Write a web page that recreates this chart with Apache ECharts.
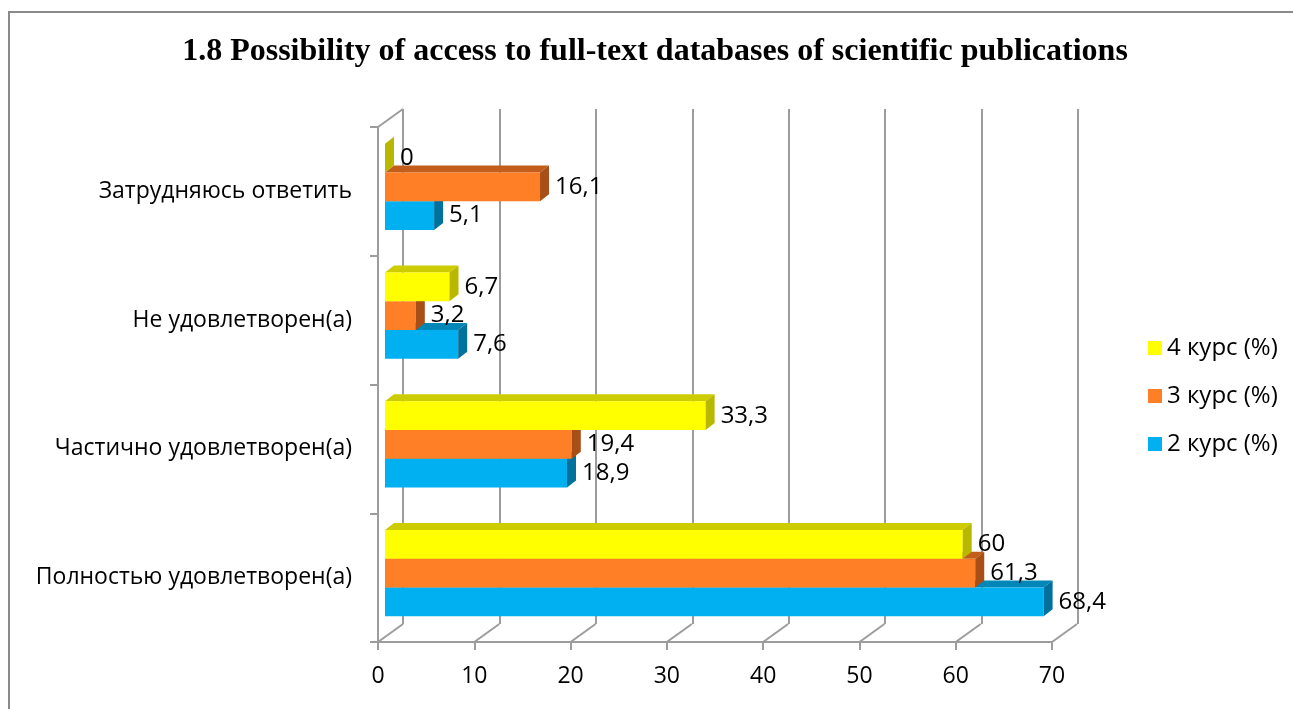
<!DOCTYPE html>
<html>
<head>
<meta charset="utf-8">
<script src="https://cdn.jsdelivr.net/npm/echarts@6/dist/echarts.min.js"></script>
<style>
html,body{margin:0;padding:0;background:#fff;}
#chart{width:1293px;height:709px;}
</style>
</head>
<body>
<div id="chart"></div>
<script>
// Categories bottom-to-top (as on the y axis)
var categories = ['Полностью удовлетворен(а)', 'Частично удовлетворен(а)', 'Не удовлетворен(а)', 'Затрудняюсь ответить'];
var seriesNames = ['2 курс (%)', '3 курс (%)', '4 курс (%)'];
var kurs2 = [68.4, 18.9, 7.6, 5.1];
var kurs3 = [61.3, 19.4, 3.2, 16.1];
var kurs4 = [60, 33.3, 6.7, 0];
var xTicks = [0, 10, 20, 30, 40, 50, 60, 70];
var titleText = '1.8 Possibility of access to full-text databases of scientific publications';

var FONT = '"Open Sans", "Noto Sans", sans-serif';
var FS = 24;
var palette = [
  {front: '#00B0F0', top: '#0087B8', side: '#00709C'},
  {front: '#FF7F27', top: '#C25D1C', side: '#A84F18'},
  {front: '#FFFF00', top: '#CCCC00', side: '#B8B800'}
];

function fmt(v) { return String(v).replace('.', ','); }

function makeRender(k) {
  var col = palette[k];
  return function (params, api) {
    var v = api.value(0), c = api.value(1);
    var p0 = api.coord([0, c]);
    var p1 = api.coord([v, c]);
    var band = api.size([0, 1])[1];
    var h = band * 0.223;
    var ox = 7, oy = -4.5;
    var yc = p0[1] + oy + (1 - k) * h;
    var x0 = p0[0] + ox, x1 = p1[0] + ox;
    var yt = yc - h / 2, yb = yc + h / 2;
    var dx = 9, dy = -7;
    return {
      type: 'group',
      children: [
        {type: 'polygon', shape: {points: [[x0, yt], [x0 + dx, yt + dy], [x1 + dx, yt + dy], [x1, yt]]}, style: {fill: col.top}},
        {type: 'rect', shape: {x: x0, y: yt, width: Math.max(x1 - x0, 0), height: h}, style: {fill: col.front}},
        {type: 'polygon', shape: {points: [[x1, yt], [x1 + dx, yt + dy], [x1 + dx, yb + dy], [x1, yb]]}, style: {fill: col.side}},
        {type: 'text', z2: 100, style: {x: x1 + 15, y: yc, text: fmt(v), fill: '#000', font: FS + 'px ' + FONT, textAlign: 'left', textVerticalAlign: 'middle'}}
      ]
    };
  };
}

function seriesData(arr) {
  return arr.map(function (v, i) { return [v, i]; });
}

var chart = echarts.init(document.getElementById('chart'), null, {renderer: 'canvas'});

var gridColor = '#9c9c9c';

var option = {
  backgroundColor: '#fff',
  animation: false,
  graphic: [
    {type: 'rect', shape: {x: 9, y: 12, width: 1300, height: 720}, style: {fill: 'none', stroke: '#8a8a8a', lineWidth: 2}, z: -10},
    {type: 'text', style: {x: 655, y: 52, text: titleText, textAlign: 'center', textVerticalAlign: 'middle', font: 'bold 32px "Liberation Serif", "Times New Roman", serif', fill: '#000'}}
  ],
  legend: {
    orient: 'vertical',
    left: 1143,
    top: 331,
    icon: 'rect',
    itemWidth: 14,
    itemHeight: 14,
    itemGap: 24,
    data: ['4 курс (%)', '3 курс (%)', '2 курс (%)'],
    textStyle: {fontFamily: FONT, fontSize: FS, color: '#000'}
  },
  grid: [
    {left: 378, top: 127, width: 674, height: 515, containLabel: false},
    {left: 403, top: 109, width: 675, height: 515, containLabel: false}
  ],
  xAxis: [
    {
      gridIndex: 0, type: 'value', min: 0, max: 70, interval: 10,
      axisLine: {show: true, lineStyle: {color: gridColor, width: 2}},
      axisTick: {show: true, length: 8, lineStyle: {color: gridColor, width: 2}},
      splitLine: {show: false},
      axisLabel: {color: '#000', fontFamily: FONT, fontSize: 23, margin: 23, formatter: function (v) { return String(v); }}
    },
    {
      gridIndex: 1, type: 'value', min: 0, max: 70, interval: 10,
      axisLine: {show: false}, axisTick: {show: false}, axisLabel: {show: false},
      splitLine: {show: true, lineStyle: {color: gridColor, width: 2}}
    }
  ],
  yAxis: [
    {
      gridIndex: 0, type: 'category', data: categories,
      axisLine: {show: true, lineStyle: {color: gridColor, width: 2}},
      axisTick: {show: true, length: 8, lineStyle: {color: gridColor, width: 2}},
      axisLabel: {color: '#000', fontFamily: FONT, fontSize: 23, margin: 26}
    },
    {
      gridIndex: 1, type: 'category', data: categories, show: false
    }
  ],
  series: [
    {
      name: 'axes3d', type: 'custom', xAxisIndex: 0, yAxisIndex: 0, clip: false, silent: true,
      data: xTicks.map(function (t) { return [t]; }),
      renderItem: function (params, api) {
        var cs = params.coordSys;
        var t = api.value(0);
        var x = api.coord([t, 0])[0];
        var yB = cs.y + cs.height;
        var children = [
          {type: 'line', shape: {x1: x, y1: yB, x2: x + 25, y2: yB - 18}, style: {stroke: gridColor, lineWidth: 2}}
        ];
        if (params.dataIndex === 0) {
          children.push({type: 'line', shape: {x1: cs.x, y1: cs.y, x2: cs.x + 25, y2: cs.y - 18}, style: {stroke: gridColor, lineWidth: 2}});
        }
        return {type: 'group', children: children};
      }
    },
    {name: seriesNames[0], type: 'custom', xAxisIndex: 0, yAxisIndex: 0, clip: false, itemStyle: {color: palette[0].front}, data: seriesData(kurs2), renderItem: makeRender(0)},
    {name: seriesNames[1], type: 'custom', xAxisIndex: 0, yAxisIndex: 0, clip: false, itemStyle: {color: palette[1].front}, data: seriesData(kurs3), renderItem: makeRender(1)},
    {name: seriesNames[2], type: 'custom', xAxisIndex: 0, yAxisIndex: 0, clip: false, itemStyle: {color: palette[2].front}, data: seriesData(kurs4), renderItem: makeRender(2)}
  ]
};
chart.setOption(option);
</script>
</body>
</html>
